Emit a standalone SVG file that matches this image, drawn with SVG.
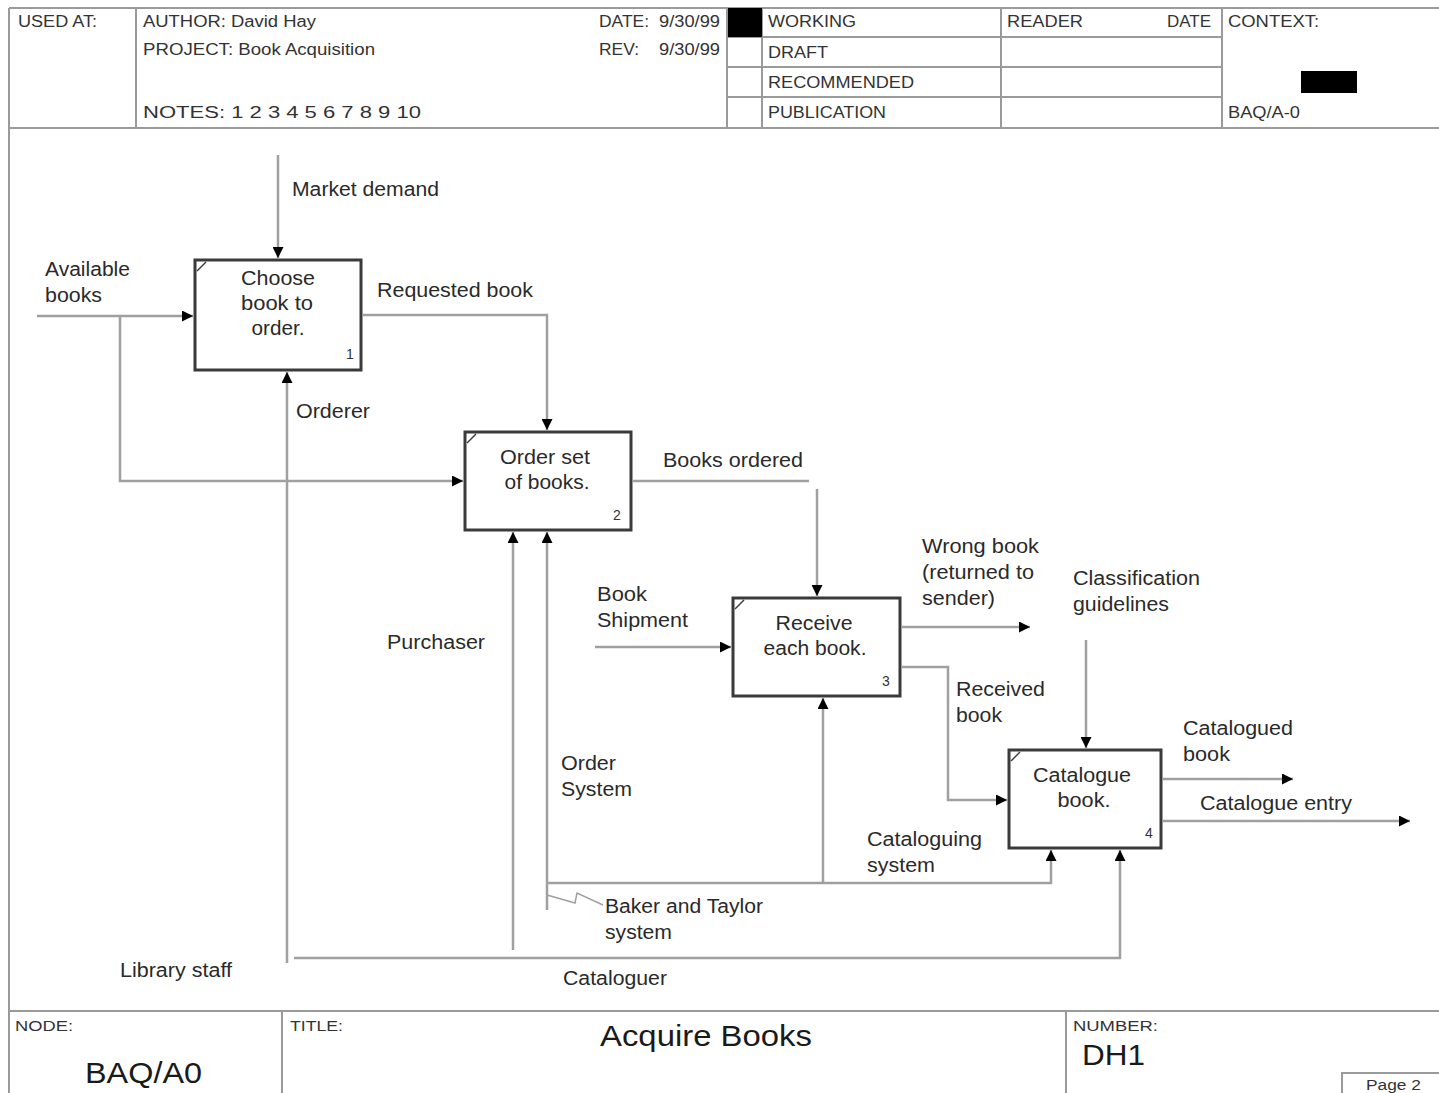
<svg xmlns="http://www.w3.org/2000/svg" width="1439" height="1093" viewBox="0 0 1439 1093">
<style>
.frame{stroke:#9a9a9a;stroke-width:2;fill:none}
.hdr{font-family:"Liberation Sans",Arial,sans-serif;font-size:16px;fill:#333}
.lbl{font-family:"Liberation Sans",Arial,sans-serif;font-size:20px;fill:#2a2a2a}
.num{font-family:"Liberation Sans",Arial,sans-serif;font-size:14px;fill:#333}
.big{font-family:"Liberation Sans",Arial,sans-serif;font-size:30px;fill:#1a1a1a}
.box{fill:#fff;stroke:#3a3a3a;stroke-width:3}
.corner{stroke:#3a3a3a;stroke-width:1.5;fill:none}
.con{stroke:#a0a0a0;stroke-width:2.5;fill:none}
.arr{stroke:#a0a0a0;stroke-width:2.5;fill:none;marker-end:url(#ah)}
</style>
<defs>
<marker id="ah" viewBox="0 0 10 10" refX="10" refY="5" markerWidth="11" markerHeight="11" markerUnits="userSpaceOnUse" orient="auto"><path d="M0,0 L10,5 L0,10 z" fill="#000"/></marker>
</defs>
<rect x="0" y="0" width="1439" height="1093" fill="#fff"/>

<g id="header">
<line class="frame" x1="9" y1="8" x2="1439" y2="8"/>
<line class="frame" x1="9" y1="8" x2="9" y2="1093"/>
<line class="frame" x1="9" y1="128" x2="1439" y2="128"/>
<line class="frame" x1="136" y1="8" x2="136" y2="128"/>
<line class="frame" x1="727" y1="8" x2="727" y2="128"/>
<line class="frame" x1="762" y1="8" x2="762" y2="128"/>
<line class="frame" x1="1001" y1="8" x2="1001" y2="128"/>
<line class="frame" x1="1222" y1="8" x2="1222" y2="128"/>
<line class="frame" x1="727" y1="37" x2="1222" y2="37"/>
<line class="frame" x1="727" y1="67" x2="1222" y2="67"/>
<line class="frame" x1="727" y1="97" x2="1222" y2="97"/>
<rect x="728" y="8" width="34" height="29" fill="#000"/>
<rect x="1301" y="71" width="56" height="22" fill="#000"/>
<text class="hdr" x="18" y="27" textLength="79" lengthAdjust="spacingAndGlyphs">USED AT:</text>
<text class="hdr" x="143" y="27" textLength="173" lengthAdjust="spacingAndGlyphs">AUTHOR:  David Hay</text>
<text class="hdr" x="143" y="55" textLength="232" lengthAdjust="spacingAndGlyphs">PROJECT:  Book Acquisition</text>
<text class="hdr" x="143" y="118" textLength="278" lengthAdjust="spacingAndGlyphs">NOTES:  1  2  3  4  5  6  7  8  9  10</text>
<text class="hdr" x="599" y="27" textLength="50" lengthAdjust="spacingAndGlyphs">DATE:</text>
<text class="hdr" x="659" y="27" textLength="61" lengthAdjust="spacingAndGlyphs">9/30/99</text>
<text class="hdr" x="599" y="55" textLength="40" lengthAdjust="spacingAndGlyphs">REV:</text>
<text class="hdr" x="659" y="55" textLength="61" lengthAdjust="spacingAndGlyphs">9/30/99</text>
<text class="hdr" x="768" y="27" textLength="88" lengthAdjust="spacingAndGlyphs">WORKING</text>
<text class="hdr" x="768" y="58" textLength="60" lengthAdjust="spacingAndGlyphs">DRAFT</text>
<text class="hdr" x="768" y="88" textLength="146" lengthAdjust="spacingAndGlyphs">RECOMMENDED</text>
<text class="hdr" x="768" y="118" textLength="118" lengthAdjust="spacingAndGlyphs">PUBLICATION</text>
<text class="hdr" x="1007" y="27" textLength="76" lengthAdjust="spacingAndGlyphs">READER</text>
<text class="hdr" x="1167" y="27" textLength="44" lengthAdjust="spacingAndGlyphs">DATE</text>
<text class="hdr" x="1228" y="27" textLength="91" lengthAdjust="spacingAndGlyphs">CONTEXT:</text>
<text class="hdr" x="1228" y="118" textLength="72" lengthAdjust="spacingAndGlyphs">BAQ/A-0</text>
</g>

<g id="connectors">
<!-- Market demand -->
<line class="arr" x1="278" y1="155" x2="278" y2="258"/>
<!-- Available books -->
<line class="arr" x1="37" y1="316" x2="193" y2="316"/>
<polyline class="arr" points="120,316 120,481 463,481"/>
<!-- Requested book -->
<polyline class="arr" points="363,315 547,315 547,430"/>
<!-- Orderer / Library staff -->
<line class="arr" x1="287" y1="963" x2="287" y2="372"/>
<polyline class="arr" points="294,958 1120,958 1120,850"/>
<!-- Purchaser -->
<line class="arr" x1="513" y1="950" x2="513" y2="532"/>
<!-- Order System -->
<line class="arr" x1="547" y1="910" x2="547" y2="532"/>
<polyline class="arr" points="547,883 1051,883 1051,850"/>
<line class="arr" x1="823" y1="883" x2="823" y2="698"/>
<polyline class="con" style="stroke-width:1.5" points="547,895 575,903 577,893 603,905"/>
<!-- Books ordered -->
<line class="con" x1="633" y1="481" x2="809" y2="481"/>
<line class="arr" x1="817" y1="489" x2="817" y2="596"/>
<!-- Book Shipment -->
<line class="arr" x1="595" y1="647" x2="731" y2="647"/>
<!-- Wrong book -->
<line class="arr" x1="902" y1="627" x2="1030" y2="627"/>
<!-- Received book -->
<polyline class="arr" points="902,667 948,667 948,800 1007,800"/>
<!-- Classification guidelines -->
<line class="arr" x1="1086" y1="640" x2="1086" y2="748"/>
<!-- Catalogued book -->
<line class="arr" x1="1163" y1="779" x2="1293" y2="779"/>
<!-- Catalogue entry -->
<line class="arr" x1="1163" y1="821" x2="1410" y2="821"/>

<text class="lbl" x="292" y="196" textLength="147" lengthAdjust="spacingAndGlyphs">Market demand</text>
<text class="lbl" x="45" y="276" textLength="85" lengthAdjust="spacingAndGlyphs">Available</text>
<text class="lbl" x="45" y="302" textLength="57" lengthAdjust="spacingAndGlyphs">books</text>
<text class="lbl" x="377" y="297" textLength="156" lengthAdjust="spacingAndGlyphs">Requested book</text>
<text class="lbl" x="296" y="418" textLength="74" lengthAdjust="spacingAndGlyphs">Orderer</text>
<text class="lbl" x="663" y="467" textLength="140" lengthAdjust="spacingAndGlyphs">Books ordered</text>
<text class="lbl" x="922" y="553" textLength="117" lengthAdjust="spacingAndGlyphs">Wrong book</text>
<text class="lbl" x="922" y="579" textLength="112" lengthAdjust="spacingAndGlyphs">(returned to</text>
<text class="lbl" x="922" y="605" textLength="73" lengthAdjust="spacingAndGlyphs">sender)</text>
<text class="lbl" x="1073" y="585" textLength="127" lengthAdjust="spacingAndGlyphs">Classification</text>
<text class="lbl" x="1073" y="611" textLength="96" lengthAdjust="spacingAndGlyphs">guidelines</text>
<text class="lbl" x="597" y="601" textLength="50" lengthAdjust="spacingAndGlyphs">Book</text>
<text class="lbl" x="597" y="627" textLength="91" lengthAdjust="spacingAndGlyphs">Shipment</text>
<text class="lbl" x="387" y="649" textLength="98" lengthAdjust="spacingAndGlyphs">Purchaser</text>
<text class="lbl" x="956" y="696" textLength="89" lengthAdjust="spacingAndGlyphs">Received</text>
<text class="lbl" x="956" y="722" textLength="46" lengthAdjust="spacingAndGlyphs">book</text>
<text class="lbl" x="1183" y="735" textLength="110" lengthAdjust="spacingAndGlyphs">Catalogued</text>
<text class="lbl" x="1183" y="761" textLength="47" lengthAdjust="spacingAndGlyphs">book</text>
<text class="lbl" x="1200" y="810" textLength="152" lengthAdjust="spacingAndGlyphs">Catalogue entry</text>
<text class="lbl" x="561" y="770" textLength="55" lengthAdjust="spacingAndGlyphs">Order</text>
<text class="lbl" x="561" y="796" textLength="71" lengthAdjust="spacingAndGlyphs">System</text>
<text class="lbl" x="867" y="846" textLength="115" lengthAdjust="spacingAndGlyphs">Cataloguing</text>
<text class="lbl" x="867" y="872" textLength="68" lengthAdjust="spacingAndGlyphs">system</text>
<text class="lbl" x="605" y="913" textLength="158" lengthAdjust="spacingAndGlyphs">Baker and Taylor</text>
<text class="lbl" x="605" y="939" textLength="67" lengthAdjust="spacingAndGlyphs">system</text>
<text class="lbl" x="120" y="977" textLength="112" lengthAdjust="spacingAndGlyphs">Library staff</text>
<text class="lbl" x="563" y="985" textLength="104" lengthAdjust="spacingAndGlyphs">Cataloguer</text>
</g>

<g id="box1">
<rect class="box" x="195" y="260" width="166" height="110"/>
<line class="corner" x1="197" y1="271" x2="206" y2="262"/>
<text class="lbl" x="278" y="285" text-anchor="middle" textLength="74" lengthAdjust="spacingAndGlyphs">Choose</text>
<text class="lbl" x="277" y="310" text-anchor="middle" textLength="72" lengthAdjust="spacingAndGlyphs">book to</text>
<text class="lbl" x="278" y="335" text-anchor="middle" textLength="53" lengthAdjust="spacingAndGlyphs">order.</text>
<text class="num" x="346" y="359">1</text>
</g>

<g id="box2">
<rect class="box" x="465" y="432" width="166" height="98"/>
<line class="corner" x1="467" y1="443" x2="476" y2="434"/>
<text class="lbl" x="545" y="464" text-anchor="middle" textLength="90" lengthAdjust="spacingAndGlyphs">Order set</text>
<text class="lbl" x="547" y="489" text-anchor="middle" textLength="85" lengthAdjust="spacingAndGlyphs">of books.</text>
<text class="num" x="613" y="520">2</text>
</g>

<g id="box3">
<rect class="box" x="733" y="598" width="167" height="98"/>
<line class="corner" x1="735" y1="609" x2="744" y2="600"/>
<text class="lbl" x="814" y="630" text-anchor="middle" textLength="77" lengthAdjust="spacingAndGlyphs">Receive</text>
<text class="lbl" x="815" y="655" text-anchor="middle" textLength="103" lengthAdjust="spacingAndGlyphs">each book.</text>
<text class="num" x="882" y="686">3</text>
</g>

<g id="box4">
<rect class="box" x="1009" y="750" width="152" height="98"/>
<line class="corner" x1="1011" y1="761" x2="1020" y2="752"/>
<text class="lbl" x="1082" y="782" text-anchor="middle" textLength="98" lengthAdjust="spacingAndGlyphs">Catalogue</text>
<text class="lbl" x="1084" y="807" text-anchor="middle" textLength="53" lengthAdjust="spacingAndGlyphs">book.</text>
<text class="num" x="1145" y="838">4</text>
</g>

<g id="footer">
<line class="frame" x1="9" y1="1011" x2="1439" y2="1011"/>
<line class="frame" x1="282" y1="1011" x2="282" y2="1093"/>
<line class="frame" x1="1066" y1="1011" x2="1066" y2="1093"/>
<polyline class="frame" points="1342,1093 1342,1073 1439,1073"/>
<text class="hdr" x="15" y="1031" style="font-size:14px" textLength="58" lengthAdjust="spacingAndGlyphs">NODE:</text>
<text class="hdr" x="290" y="1031" style="font-size:14px" textLength="53" lengthAdjust="spacingAndGlyphs">TITLE:</text>
<text class="hdr" x="1073" y="1031" style="font-size:14px" textLength="85" lengthAdjust="spacingAndGlyphs">NUMBER:</text>
<text class="big" x="85" y="1083" textLength="117" lengthAdjust="spacingAndGlyphs">BAQ/A0</text>
<text class="big" x="600" y="1046" textLength="212" lengthAdjust="spacingAndGlyphs">Acquire Books</text>
<text class="big" x="1082" y="1065" textLength="63" lengthAdjust="spacingAndGlyphs">DH1</text>
<text class="hdr" x="1366" y="1090" style="font-size:14px" textLength="55" lengthAdjust="spacingAndGlyphs">Page 2</text>
</g>
</svg>
